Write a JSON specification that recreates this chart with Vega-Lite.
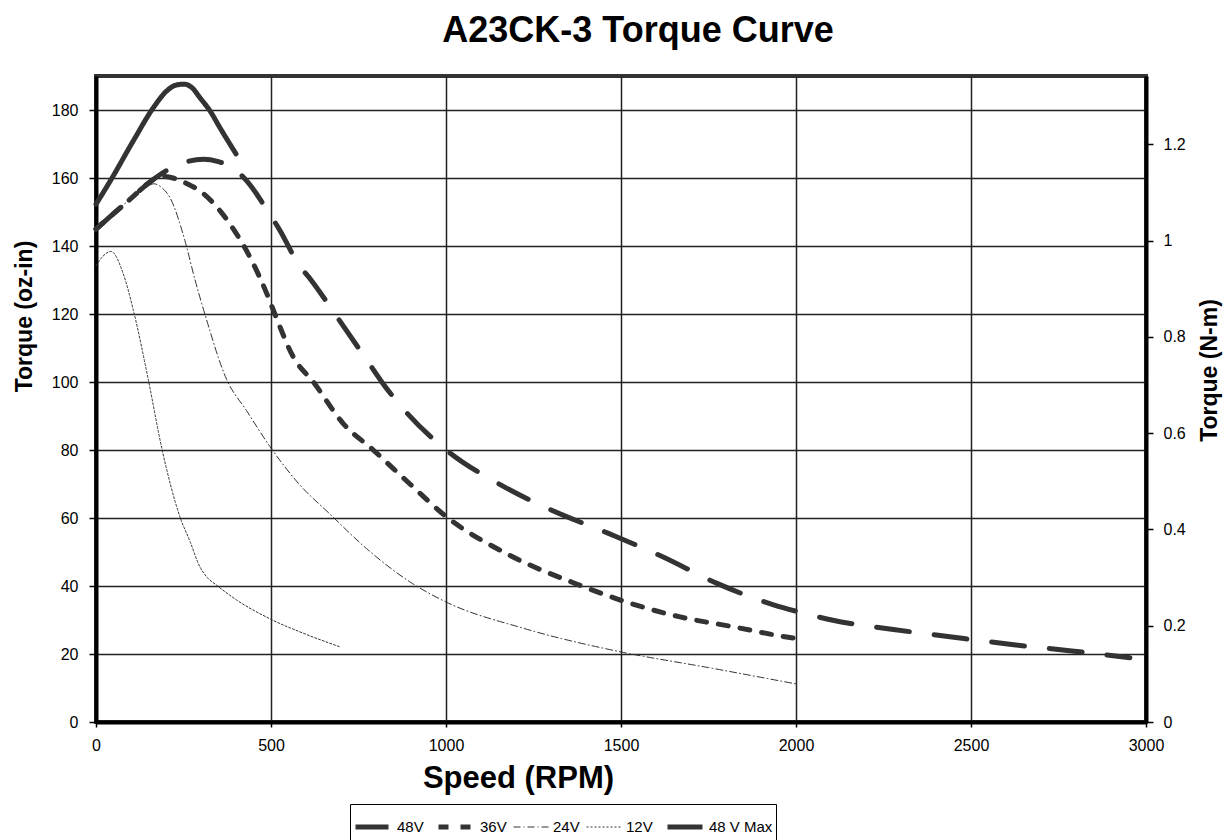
{
  "$schema": "https://vega.github.io/schema/vega-lite/v6.json",
  "width": 1050,
  "height": 646,
  "autosize": {"type": "none"},
  "padding": {"left": 96, "top": 76, "right": 86, "bottom": 118},
  "background": "white",
  "title": {"text": "A23CK-3 Torque Curve", "fontSize": 36, "font": "Liberation Sans", "fontWeight": "bold", "color": "black", "anchor": "middle", "frame": "group", "dx": 17, "offset": -5, "baseline": "alphabetic"},
  "config": {
    "font": "Liberation Sans",
    "view": {"stroke": "#333", "strokeWidth": 4},
    "axis": {"labelFont": "Liberation Sans", "titleFont": "Liberation Sans", "labelColor": "black", "titleColor": "black", "labelFontSize": 16, "labelFlush": false, "titleFontWeight": "bold", "domainColor": "black", "domainWidth": 4, "tickColor": "black", "tickWidth": 1.5, "tickSize": 7, "gridColor": "#222", "gridWidth": 1.5, "gridOpacity": 1}
  },
  "layer": [
    {
      "data": {"values": [
        {"series": "48 V Max", "rpm": 0, "torque": 152.3},
        {"series": "48 V Max", "rpm": 40, "torque": 159},
        {"series": "48 V Max", "rpm": 107, "torque": 171},
        {"series": "48 V Max", "rpm": 164, "torque": 180.7},
        {"series": "48 V Max", "rpm": 202, "torque": 185.6},
        {"series": "48 V Max", "rpm": 225, "torque": 187.2},
        {"series": "48 V Max", "rpm": 251, "torque": 187.6},
        {"series": "48 V Max", "rpm": 275, "torque": 186.5},
        {"series": "48 V Max", "rpm": 297, "torque": 183.6},
        {"series": "48 V Max", "rpm": 326, "torque": 179.7},
        {"series": "48 V Max", "rpm": 354, "torque": 174.8},
        {"series": "48 V Max", "rpm": 400, "torque": 167.1},
        {"series": "48V", "rpm": 0, "torque": 145},
        {"series": "48V", "rpm": 50, "torque": 149.5},
        {"series": "48V", "rpm": 100, "torque": 154},
        {"series": "48V", "rpm": 150, "torque": 158.5},
        {"series": "48V", "rpm": 218, "torque": 163.1},
        {"series": "48V", "rpm": 260, "torque": 164.8},
        {"series": "48V", "rpm": 307, "torque": 165.5},
        {"series": "48V", "rpm": 350, "torque": 164.8},
        {"series": "48V", "rpm": 386, "torque": 163.4},
        {"series": "48V", "rpm": 430, "torque": 159.2},
        {"series": "48V", "rpm": 495, "torque": 149.6},
        {"series": "48V", "rpm": 526, "torque": 144.5},
        {"series": "48V", "rpm": 578, "torque": 134.7},
        {"series": "48V", "rpm": 616, "torque": 129.8},
        {"series": "48V", "rpm": 683, "torque": 120},
        {"series": "48V", "rpm": 778, "torque": 105.8},
        {"series": "48V", "rpm": 816, "torque": 100.1},
        {"series": "48V", "rpm": 878, "torque": 92.1},
        {"series": "48V", "rpm": 1002, "torque": 79.9},
        {"series": "48V", "rpm": 1150, "torque": 70.1},
        {"series": "48V", "rpm": 1302, "torque": 62.3},
        {"series": "48V", "rpm": 1466, "torque": 55.4},
        {"series": "48V", "rpm": 1619, "torque": 48.6},
        {"series": "48V", "rpm": 1776, "torque": 40.7},
        {"series": "48V", "rpm": 1938, "torque": 34.4},
        {"series": "48V", "rpm": 2000, "torque": 32.6},
        {"series": "48V", "rpm": 2102, "torque": 30},
        {"series": "48V", "rpm": 2273, "torque": 27.3},
        {"series": "48V", "rpm": 2445, "torque": 25},
        {"series": "48V", "rpm": 2616, "torque": 22.8},
        {"series": "48V", "rpm": 2788, "torque": 20.9},
        {"series": "48V", "rpm": 2954, "torque": 18.9},
        {"series": "36V", "rpm": 0, "torque": 145},
        {"series": "36V", "rpm": 50, "torque": 149.5},
        {"series": "36V", "rpm": 100, "torque": 154},
        {"series": "36V", "rpm": 150, "torque": 158.5},
        {"series": "36V", "rpm": 183, "torque": 160.5},
        {"series": "36V", "rpm": 220, "torque": 160},
        {"series": "36V", "rpm": 259, "torque": 158.4},
        {"series": "36V", "rpm": 307, "torque": 155.4},
        {"series": "36V", "rpm": 354, "torque": 150.4},
        {"series": "36V", "rpm": 402, "torque": 143.5},
        {"series": "36V", "rpm": 440, "torque": 136.7},
        {"series": "36V", "rpm": 488, "torque": 126},
        {"series": "36V", "rpm": 511, "torque": 120},
        {"series": "36V", "rpm": 564, "torque": 107.3},
        {"series": "36V", "rpm": 621, "torque": 100},
        {"series": "36V", "rpm": 707, "torque": 87.7},
        {"series": "36V", "rpm": 792, "torque": 80},
        {"series": "36V", "rpm": 897, "torque": 70},
        {"series": "36V", "rpm": 1002, "torque": 60.3},
        {"series": "36V", "rpm": 1173, "torque": 49.5},
        {"series": "36V", "rpm": 1383, "torque": 40.2},
        {"series": "36V", "rpm": 1500, "torque": 35.8},
        {"series": "36V", "rpm": 1669, "torque": 30.9},
        {"series": "36V", "rpm": 1821, "torque": 28},
        {"series": "36V", "rpm": 1973, "torque": 25},
        {"series": "36V", "rpm": 2000, "torque": 24.6},
        {"series": "24V", "rpm": 0, "torque": 145},
        {"series": "24V", "rpm": 50, "torque": 149.5},
        {"series": "24V", "rpm": 100, "torque": 154},
        {"series": "24V", "rpm": 140, "torque": 157},
        {"series": "24V", "rpm": 165, "torque": 158.3},
        {"series": "24V", "rpm": 190, "torque": 157},
        {"series": "24V", "rpm": 211, "torque": 154.3},
        {"series": "24V", "rpm": 254, "torque": 141.6},
        {"series": "24V", "rpm": 283, "torque": 130},
        {"series": "24V", "rpm": 311, "torque": 120},
        {"series": "24V", "rpm": 373, "torque": 100.8},
        {"series": "24V", "rpm": 430, "torque": 91.6},
        {"series": "24V", "rpm": 497, "torque": 81},
        {"series": "24V", "rpm": 580, "torque": 70},
        {"series": "24V", "rpm": 670, "torque": 61},
        {"series": "24V", "rpm": 773, "torque": 51},
        {"series": "24V", "rpm": 900, "torque": 41},
        {"series": "24V", "rpm": 1000, "torque": 35.3},
        {"series": "24V", "rpm": 1220, "torque": 27.6},
        {"series": "24V", "rpm": 1500, "torque": 20.6},
        {"series": "24V", "rpm": 1750, "torque": 16},
        {"series": "24V", "rpm": 2000, "torque": 11.2},
        {"series": "12V", "rpm": 0, "torque": 134.2},
        {"series": "12V", "rpm": 20, "torque": 137},
        {"series": "12V", "rpm": 43, "torque": 138.4},
        {"series": "12V", "rpm": 78, "torque": 131.8},
        {"series": "12V", "rpm": 107, "torque": 121},
        {"series": "12V", "rpm": 150, "torque": 100.4},
        {"series": "12V", "rpm": 188, "torque": 80.5},
        {"series": "12V", "rpm": 240, "torque": 60.3},
        {"series": "12V", "rpm": 269, "torque": 53},
        {"series": "12V", "rpm": 297, "torque": 45.6},
        {"series": "12V", "rpm": 316, "torque": 42.7},
        {"series": "12V", "rpm": 345, "torque": 40.2},
        {"series": "12V", "rpm": 400, "torque": 36},
        {"series": "12V", "rpm": 500, "torque": 30.2},
        {"series": "12V", "rpm": 600, "torque": 25.8},
        {"series": "12V", "rpm": 697, "torque": 22.1}
      ]},
      "mark": {"type": "line", "interpolate": "monotone", "strokeCap": "round", "color": "#333"},
      "encoding": {
        "x": {"field": "rpm", "type": "quantitative", "scale": {"domain": [0, 3000], "nice": false},
          "axis": {"values": [0, 500, 1000, 1500, 2000, 2500, 3000], "format": "d", "grid": true, "tickSize": 5, "labelPadding": 10, "title": "Speed (RPM)", "titleFontSize": 31, "titleX": 422, "titleY": 65, "titleBaseline": "alphabetic", "titleAlign": "center"}},
        "y": {"field": "torque", "type": "quantitative", "scale": {"domain": [0, 190], "nice": false},
          "axis": {"values": [0, 20, 40, 60, 80, 100, 120, 140, 160, 180], "grid": true, "labelPadding": 11, "title": "Torque (oz-in)", "titleFontSize": 23, "titleAngle": 270, "titleX": -65, "titleY": 240, "titleBaseline": "alphabetic", "titleAlign": "center"}},
        "strokeDash": {"field": "series", "type": "nominal",
          "scale": {"domain": ["48V", "36V", "24V", "12V", "48 V Max"], "range": [[33, 25], [10, 12], [7, 3, 1, 3], [2, 2], [1, 0]]},
          "legend": {"title": null, "orient": "none", "legendX": 254, "legendY": 728, "direction": "horizontal", "strokeColor": "black", "fillColor": "white", "padding": 3, "labelFontSize": 15, "labelColor": "black", "labelOffset": 4, "columnPadding": 4, "symbolSize": 1225, "symbolStrokeColor": "#333", "symbolType": "stroke"}},
        "strokeWidth": {"field": "series", "type": "nominal",
          "scale": {"type": "ordinal", "domain": ["48V", "36V", "24V", "12V", "48 V Max"], "range": [5, 5, 1, 1, 5]},
          "legend": {"title": null, "orient": "none", "legendX": 254, "legendY": 728, "direction": "horizontal", "strokeColor": "black", "fillColor": "white", "padding": 3, "labelFontSize": 15, "labelColor": "black", "labelOffset": 4, "columnPadding": 4, "symbolSize": 1225, "symbolStrokeColor": "#333", "symbolType": "stroke"}}
      }
    },
    {
      "data": {"values": [{"nm": 0}, {"nm": 1.3417}]},
      "mark": {"type": "point", "opacity": 0},
      "encoding": {
        "y": {"field": "nm", "type": "quantitative", "scale": {"domain": [0, 1.3417], "nice": false},
          "axis": {"orient": "right", "values": [0, 0.2, 0.4, 0.6, 0.8, 1, 1.2], "format": ".1~f", "grid": false, "labelPadding": 10, "title": "Torque (N-m)", "titleFontSize": 23, "titleAngle": 270, "titleX": 70, "titleY": 294, "titleBaseline": "alphabetic", "titleAlign": "center"}}
      }
    }
  ],
  "resolve": {"scale": {"y": "independent"}}
}
